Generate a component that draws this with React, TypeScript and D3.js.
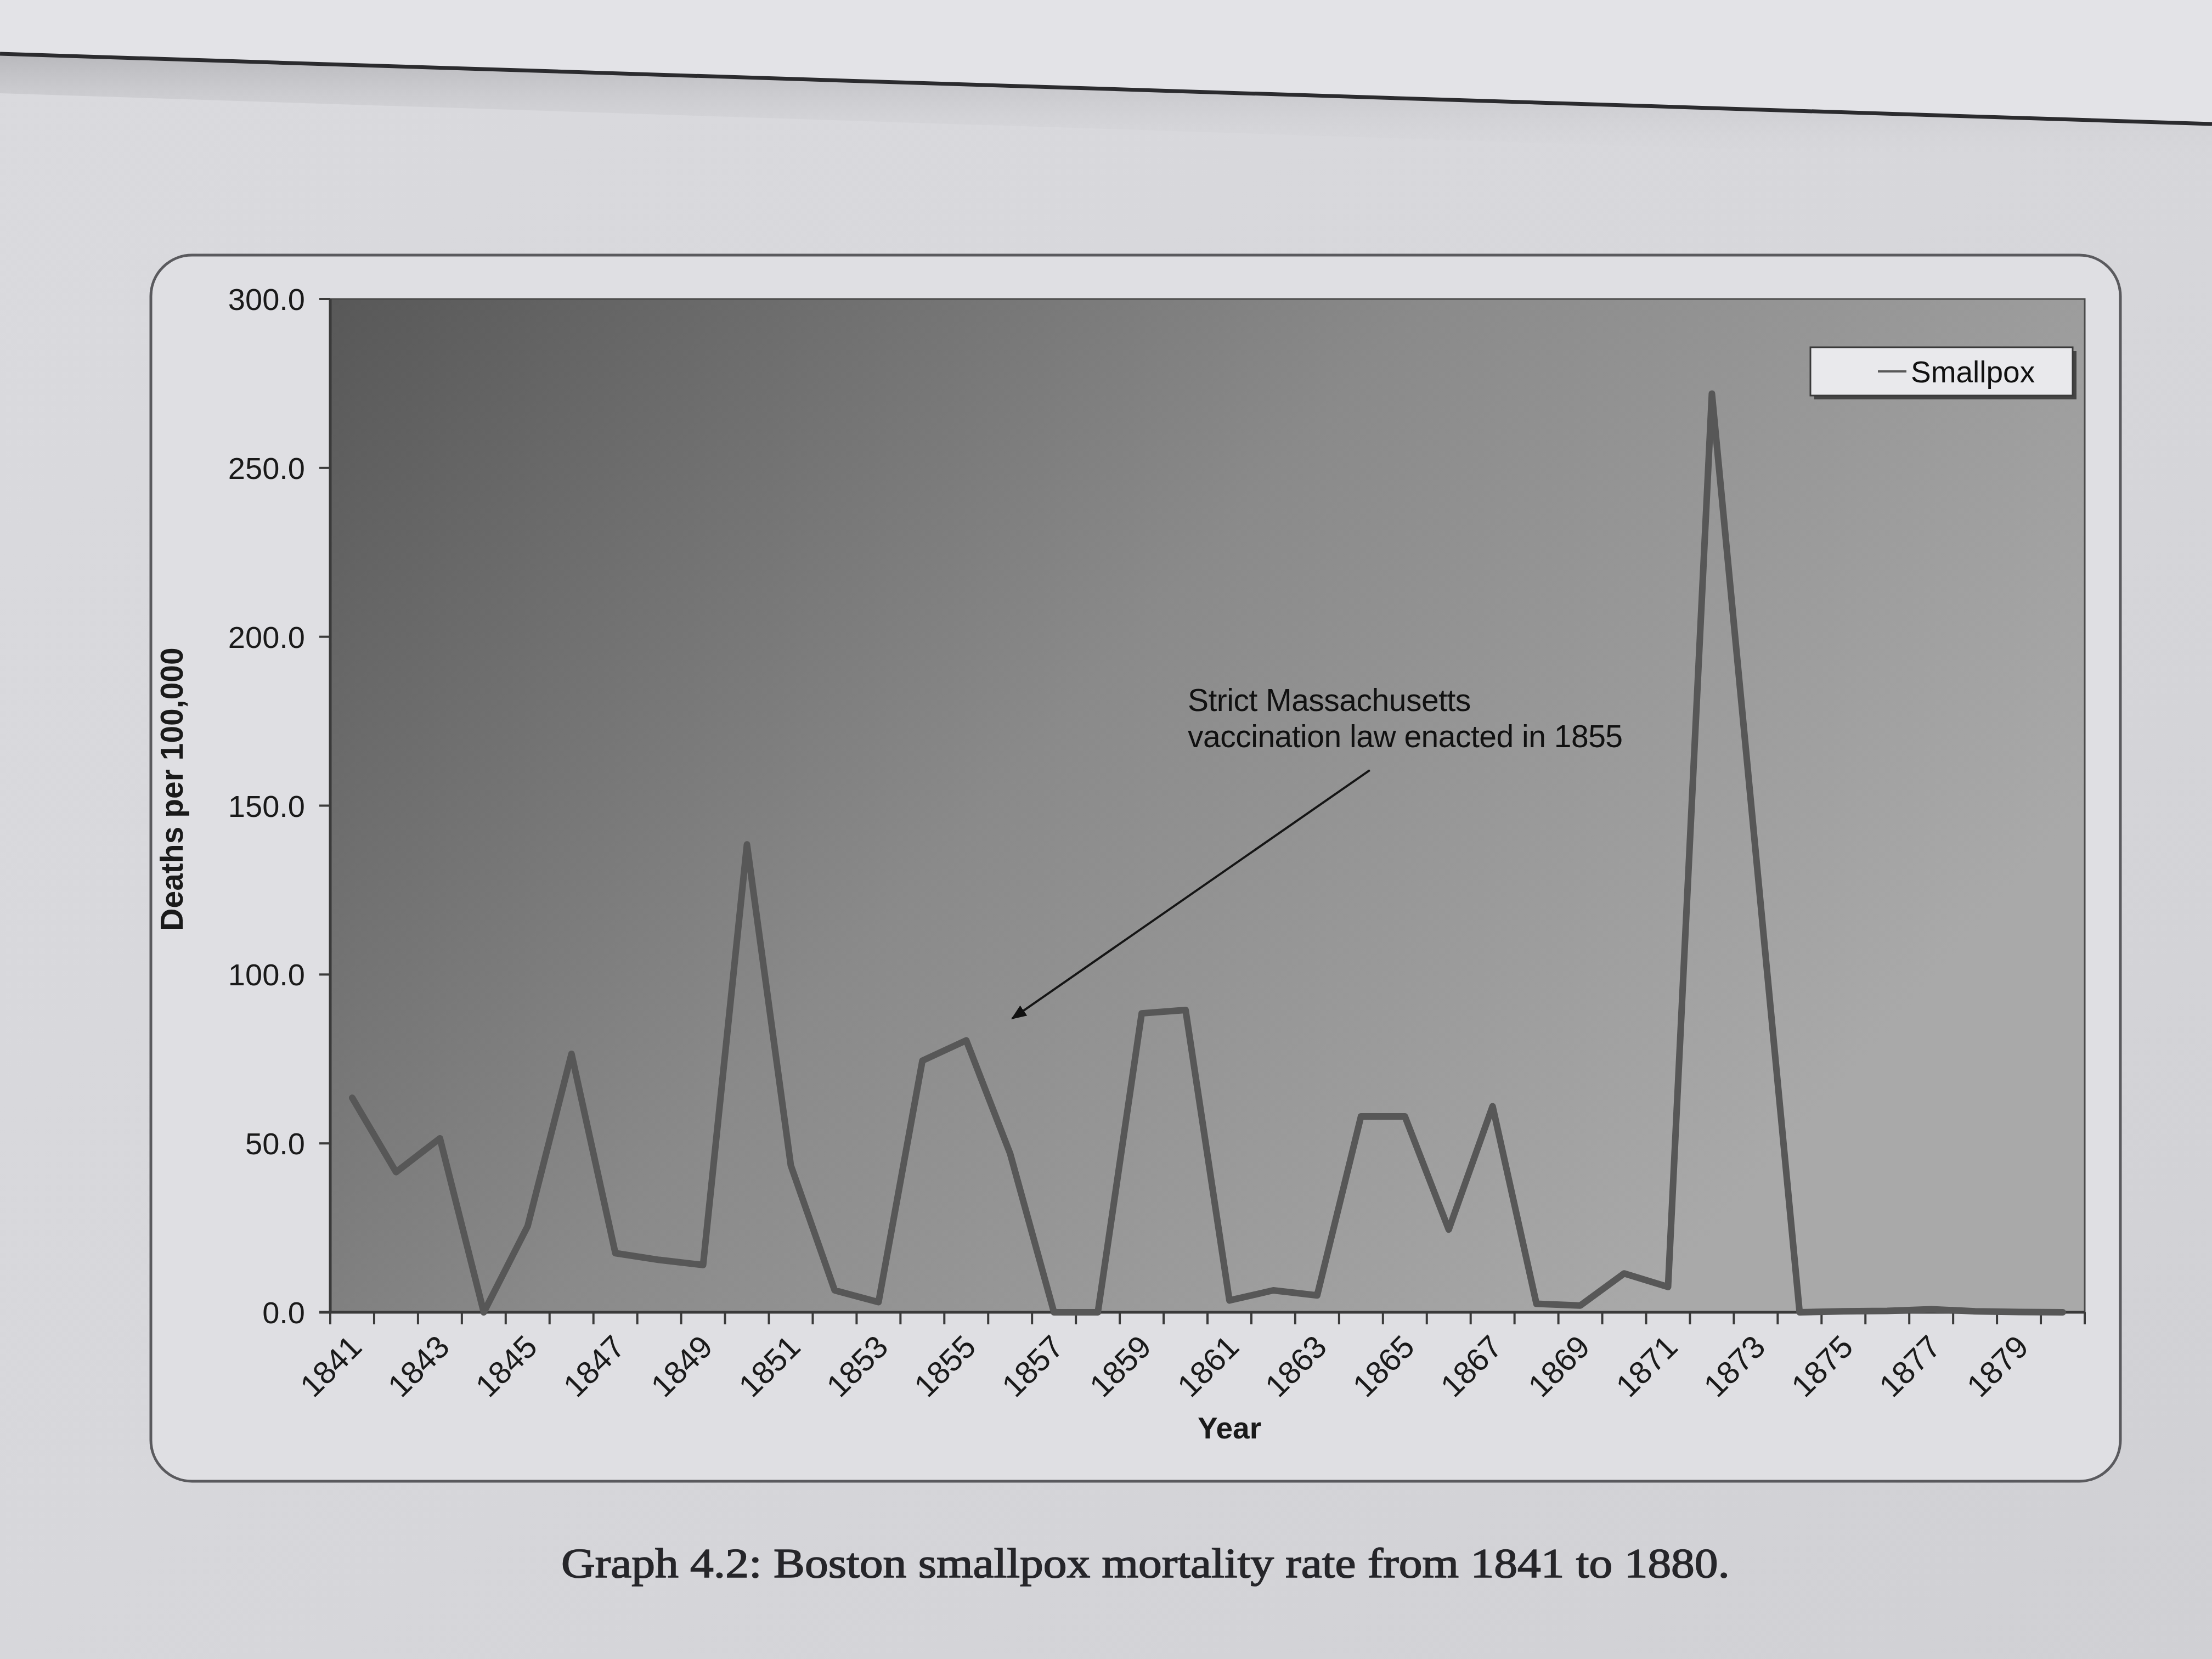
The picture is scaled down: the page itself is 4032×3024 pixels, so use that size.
import React from "react";
import * as d3 from "d3";

const years: number[] = [
  1841, 1842, 1843, 1844, 1845, 1846, 1847, 1848, 1849, 1850,
  1851, 1852, 1853, 1854, 1855, 1856, 1857, 1858, 1859, 1860,
  1861, 1862, 1863, 1864, 1865, 1866, 1867, 1868, 1869, 1870,
  1871, 1872, 1873, 1874, 1875, 1876, 1877, 1878, 1879, 1880,
];

const smallpox: number[] = [
  63.5, 41.5, 51.5, 0, 25.5, 76.5, 17.5, 15.5, 14, 138.5,
  43.5, 6.5, 3, 74.5, 80.5, 47, 0, 0, 88.5, 89.5,
  3.5, 6.5, 5, 58, 58, 24.5, 61, 2.5, 2, 11.5,
  7.5, 272, 136, 0, 0.3, 0.4, 0.9, 0.3, 0.1, 0,
];

const yTicks: number[] = [0, 50, 100, 150, 200, 250, 300];
const xLabelYears: number[] = years.filter((y) => (y - 1841) % 2 === 0);

const seriesName = "Smallpox";
const yTitle = "Deaths per 100,000";
const xTitle = "Year";
const noteLines: string[] = ["Strict Massachusetts", "vaccination law enacted in 1855"];
const caption = "Graph 4.2: Boston smallpox mortality rate from 1841 to 1880.";

const W = 4032;
const H = 3024;
const SANS = "'Liberation Sans', Arial, Helvetica, sans-serif";
const SERIF = "'Liberation Serif', 'DejaVu Serif', serif";

export default function App() {
  const plot = { left: 602, right: 3800, top: 545, bottom: 2392 };
  const x = d3.scaleBand<number>().domain(years).range([plot.left, plot.right]);
  const bw = x.bandwidth();
  const cx = (yr: number) => (x(yr) as number) + bw / 2;
  const y = d3.scaleLinear().domain([0, 300]).range([plot.bottom, plot.top]);
  const fmt = d3.format(".1f");

  const line = d3
    .line<number>()
    .x((_, i) => cx(years[i]))
    .y((v) => y(v));

  const boundaries = [...years.map((yr) => x(yr) as number), plot.right];

  // annotation anchors in data space (category index, value)
  const arrowFrom = { i: 23.7, v: 160.5 };
  const arrowTo = { i: 15.55, v: 87 };
  const ix = (i: number) => plot.left + i * bw;

  return (
    <svg
      width={W}
      height={H}
      viewBox={`0 0 ${W} ${H}`}
      style={{ position: "absolute", left: 0, top: 0, display: "block" }}
    >
      <defs>
        <linearGradient id="page" x1="0" y1="0" x2="1" y2="1">
          <stop offset="0" stopColor="#dadade" />
          <stop offset="0.5" stopColor="#d7d7db" />
          <stop offset="1" stopColor="#d0d0d4" />
        </linearGradient>
        <linearGradient id="plotbg" x1="0" y1="0" x2="1" y2="0.5">
          <stop offset="0" stopColor="#585858" />
          <stop offset="0.5" stopColor="#8a8a8a" />
          <stop offset="1" stopColor="#a9a9a9" />
        </linearGradient>
        <linearGradient id="shadow" x1="0" y1="0" x2="0" y2="1">
          <stop offset="0" stopColor="#b8b8bc" />
          <stop offset="1" stopColor="#d8d8dc" stopOpacity="0" />
        </linearGradient>
        <marker
          id="arrowhead"
          viewBox="0 0 10 10"
          refX="9"
          refY="5"
          markerWidth="7"
          markerHeight="7"
          orient="auto"
        >
          <path d="M0,1 L10,5 L0,9 z" fill="#111" />
        </marker>
      </defs>

      {/* page */}
      <rect x={0} y={0} width={W} height={H} fill="url(#page)" />
      <polygon points={`0,0 ${W},0 ${W},226 0,98`} fill="#e3e3e7" />
      <polygon points={`0,98 ${W},226 ${W},300 0,170`} fill="url(#shadow)" />
      <line x1={0} y1={98} x2={W} y2={226} stroke="#2b2b2e" strokeWidth={7} />

      {/* chart frame */}
      <rect
        x={275}
        y={465}
        width={3590}
        height={2235}
        rx={75}
        ry={75}
        fill="#dfdfe3"
        stroke="#5a5a5e"
        strokeWidth={5}
      />

      {/* plot area */}
      <rect
        x={plot.left}
        y={plot.top}
        width={plot.right - plot.left}
        height={plot.bottom - plot.top}
        fill="url(#plotbg)"
        stroke="#4a4a4a"
        strokeWidth={3}
      />

      {/* y axis */}
      <line x1={plot.left} y1={plot.top} x2={plot.left} y2={plot.bottom} stroke="#3a3a3a" strokeWidth={5} />
      {yTicks.map((t) => (
        <g key={`yt${t}`}>
          <line x1={plot.left - 20} x2={plot.left} y1={y(t)} y2={y(t)} stroke="#3a3a3a" strokeWidth={4} />
          <text
            x={plot.left - 46}
            y={y(t)}
            dy="0.36em"
            textAnchor="end"
            fontFamily={SANS}
            fontSize={56}
            fill="#1a1a1a"
          >
            {fmt(t)}
          </text>
        </g>
      ))}
      <text
        transform={`translate(312, ${(plot.top + plot.bottom) / 2 - 30}) rotate(-90)`}
        textAnchor="middle"
        dy="0.36em"
        fontFamily={SANS}
        fontWeight="bold"
        fontSize={57}
        fill="#1a1a1a"
      >
        {yTitle}
      </text>

      {/* x axis */}
      <line x1={plot.left - 20} x2={plot.right} y1={plot.bottom} y2={plot.bottom} stroke="#3a3a3a" strokeWidth={5} />
      {boundaries.map((bx, i) => (
        <line key={`xt${i}`} x1={bx} x2={bx} y1={plot.bottom} y2={plot.bottom + 22} stroke="#3a3a3a" strokeWidth={4} />
      ))}
      {xLabelYears.map((yr) => (
        <text
          key={`xl${yr}`}
          transform={`translate(${cx(yr) + 6}, ${plot.bottom + 52}) rotate(-45)`}
          textAnchor="end"
          dy="0.36em"
          fontFamily={SANS}
          fontSize={58}
          fill="#1a1a1a"
        >
          {yr}
        </text>
      ))}
      <text
        x={(plot.left + plot.right) / 2 + 40}
        y={2622}
        textAnchor="middle"
        fontFamily={SANS}
        fontWeight="bold"
        fontSize={55}
        fill="#1a1a1a"
      >
        {xTitle}
      </text>

      {/* series line */}
      <path
        d={line(smallpox) || ""}
        fill="none"
        stroke="#575757"
        strokeWidth={12}
        strokeLinejoin="round"
        strokeLinecap="round"
      />

      {/* annotation */}
      {noteLines.map((t, k) => (
        <text
          key={`n${k}`}
          x={ix(19.55)}
          y={y(178) + k * 66}
          fontFamily={SANS}
          fontSize={57}
          letterSpacing={-0.5}
          fill="#111"
        >
          {t}
        </text>
      ))}
      <line
        x1={ix(arrowFrom.i)}
        y1={y(arrowFrom.v)}
        x2={ix(arrowTo.i)}
        y2={y(arrowTo.v)}
        stroke="#151515"
        strokeWidth={4}
        markerEnd="url(#arrowhead)"
      />

      {/* legend */}
      <rect x={3307} y={640} width={478} height={88} fill="#444" />
      <rect x={3300} y={633} width={478} height={88} fill="#e9e9ec" stroke="#3a3a3a" strokeWidth={3} />
      <line x1={3423} x2={3475} y1={677} y2={677} stroke="#595959" strokeWidth={4} />
      <text x={3483} y={677} dy="0.36em" fontFamily={SANS} fontSize={55} fill="#111">
        {seriesName}
      </text>

      {/* caption */}
      <text
        x={2088}
        y={2875}
        textAnchor="middle"
        fontFamily={SERIF}
        fontSize={76}
        fill="#26262a"
        stroke="#26262a"
        strokeWidth={1.6}
        textLength={2130}
        lengthAdjust="spacingAndGlyphs"
      >
        {caption}
      </text>
    </svg>
  );
}
